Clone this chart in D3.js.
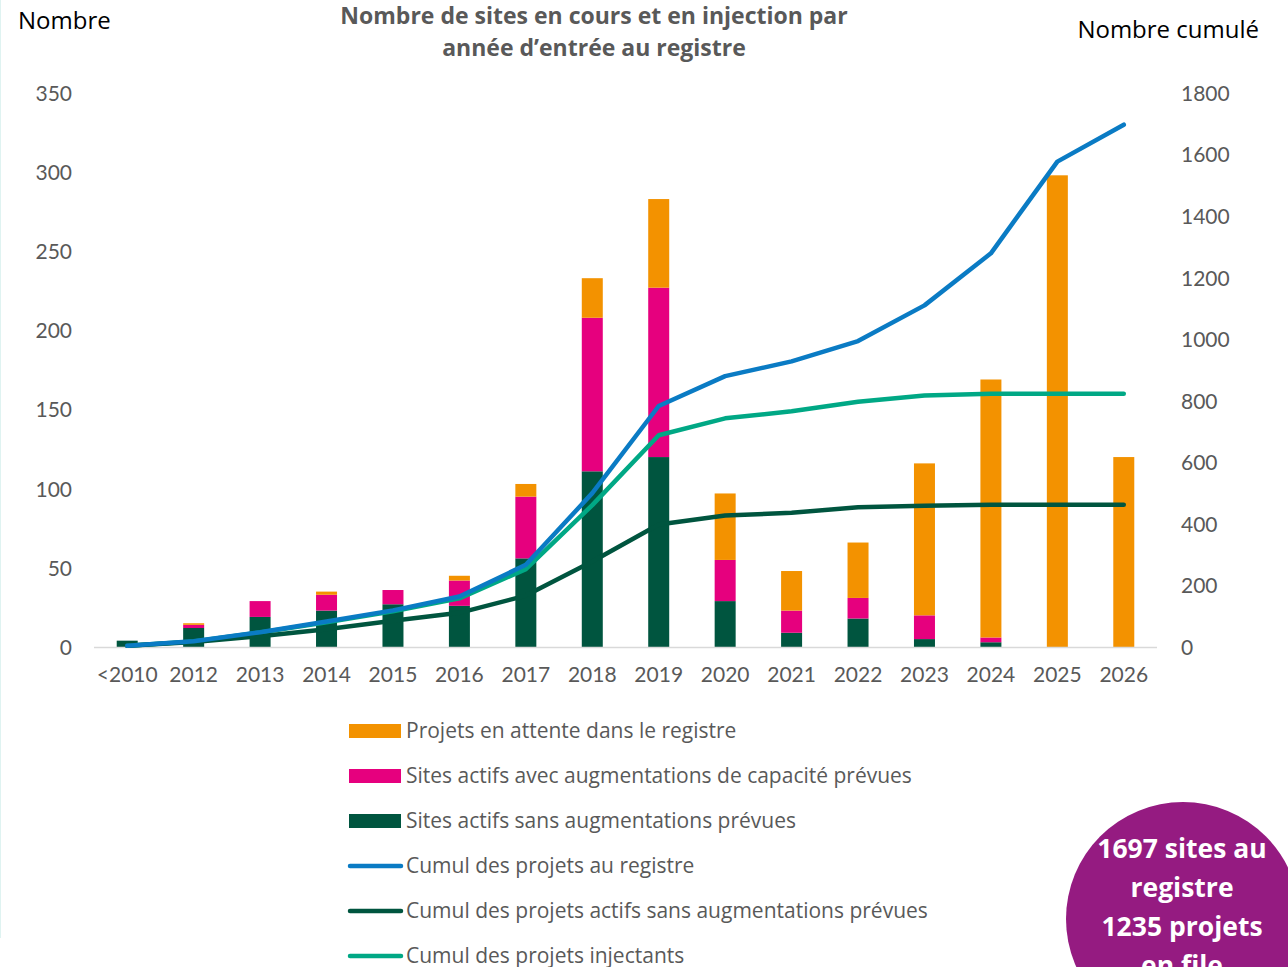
<!DOCTYPE html>
<html>
<head>
<meta charset="utf-8">
<script src="https://cdn.jsdelivr.net/npm/d3@7"></script>
<style>
  html, body { margin: 0; padding: 0; background: #fff; }
  svg { display: block; font-family: "Open Sans", Lato, sans-serif; }
</style>
</head>
<body>
<svg id="chart" width="1288" height="967"></svg>
<script>
// ---- Data ----
const categories = ["<2010","2012","2013","2014","2015","2016","2017","2018","2019","2020","2021","2022","2023","2024","2025","2026"];
const actifsSans   = [4, 12, 19, 23, 27, 26, 56, 111, 120, 29, 9, 18, 5, 3, 0, 0];
const actifsAvec   = [0, 2, 10, 10, 9, 16, 39, 97, 107, 26, 14, 13, 15, 3, 0, 0];
const enAttente    = [0, 1, 0, 2, 0, 3, 8, 25, 56, 42, 25, 35, 96, 163, 298, 120];
const cumulRegistre   = [4, 19, 48, 83, 119, 164, 267, 500, 783, 880, 928, 994, 1110, 1279, 1577, 1697];
const cumulActifsSans = [4, 16, 35, 58, 85, 111, 167, 278, 398, 427, 436, 454, 459, 462, 462, 462];
const cumulInjectants = [4, 18, 47, 80, 116, 158, 253, 461, 688, 743, 766, 797, 817, 823, 823, 823];
const leftTicks  = [0, 50, 100, 150, 200, 250, 300, 350];
const rightTicks = [0, 200, 400, 600, 800, 1000, 1200, 1400, 1600, 1800];

const barSeries = [
  { key: "sans",    name: "Sites actifs sans augmentations prévues", values: actifsSans, color: "#00553f" },
  { key: "avec",    name: "Sites actifs avec augmentations de capacité prévues", values: actifsAvec, color: "#e6007e" },
  { key: "attente", name: "Projets en attente dans le registre", values: enAttente, color: "#f39200" }
];
const lineSeries = [
  { name: "Cumul des projets au registre", values: cumulRegistre, color: "#0a7bc4" },
  { name: "Cumul des projets actifs sans augmentations prévues", values: cumulActifsSans, color: "#00553f" },
  { name: "Cumul des projets injectants", values: cumulInjectants, color: "#00a885" }
];

// ---- Layout ----
const svg = d3.select("#chart");
const plot = { left: 94, right: 1157, top: 93, bottom: 647 };

const x = d3.scaleBand().domain(categories).range([plot.left, plot.right]).paddingInner(0.68).paddingOuter(0.34);
const yL = d3.scaleLinear().domain([0, 350]).range([plot.bottom, plot.top]);
const yR = d3.scaleLinear().domain([0, 1800]).range([plot.bottom, plot.top]);

// faint left border line
svg.append("line").attr("x1", 0.5).attr("x2", 0.5).attr("y1", 0).attr("y2", 938)
  .attr("stroke", "#dff3f1").attr("stroke-width", 1);

// ---- Stacked bars ----
const rows = categories.map((c, i) => ({ cat: c, sans: actifsSans[i], avec: actifsAvec[i], attente: enAttente[i] }));
const stack = d3.stack().keys(barSeries.map(s => s.key))(rows);
const barW = 21;
stack.forEach((layer, li) => {
  svg.append("g").attr("fill", barSeries[li].color)
    .selectAll("rect").data(layer).join("rect")
    .attr("x", d => x(d.data.cat) + x.bandwidth() / 2 - barW / 2)
    .attr("width", barW)
    .attr("y", d => yL(d[1]))
    .attr("height", d => Math.max(0, yL(d[0]) - yL(d[1])));
});

// baseline
svg.append("line").attr("x1", plot.left).attr("x2", plot.right)
  .attr("y1", plot.bottom + 0.5).attr("y2", plot.bottom + 0.5)
  .attr("stroke", "#d9d9d9").attr("stroke-width", 1.5);

// ---- Lines ----
const cx = c => x(c) + x.bandwidth() / 2;
lineSeries.slice().reverse().forEach(s => {
  const line = d3.line().x((d, i) => cx(categories[i])).y(d => yR(d));
  svg.append("path").datum(s.values).attr("d", line)
    .attr("fill", "none").attr("stroke", s.color).attr("stroke-width", 4.5)
    .attr("stroke-linejoin", "round").attr("stroke-linecap", "round");
});

// ---- Axes ----
const fmt = d3.format("d");
const axisLeft = d3.axisLeft(yL).tickValues(leftTicks).tickFormat(fmt).tickSize(0).tickPadding(0);
const gL = svg.append("g").attr("transform", `translate(72,0)`).call(axisLeft);
const axisRight = d3.axisRight(yR).tickValues(rightTicks).tickFormat(fmt).tickSize(0).tickPadding(0);
const gR = svg.append("g").attr("transform", `translate(1181,0)`).call(axisRight);
const axisBottom = d3.axisBottom(x).tickSize(0).tickPadding(0);
const gB = svg.append("g").attr("transform", `translate(0,${plot.bottom + 20})`).call(axisBottom);
[gL, gR, gB].forEach(g => {
  g.select(".domain").remove();
  g.selectAll("text").attr("fill", "#595959").style("font-size", "21px").style("font-family", "Lato, sans-serif");
});
gL.selectAll("text").attr("dy", "0.35em");
gR.selectAll("text").attr("dy", "0.35em");
gB.selectAll("text").attr("dy", "0.71em");

// ---- Titles ----
svg.append("text").attr("x", 18).attr("y", 29).text("Nombre")
  .attr("fill", "#000").style("font-size", "24px");
svg.append("text").attr("x", 1259).attr("y", 38).attr("text-anchor", "end").text("Nombre cumulé")
  .attr("fill", "#000").style("font-size", "24px");
const title = svg.append("text").attr("text-anchor", "middle").attr("fill", "#595959")
  .style("font-size", "23px").style("font-weight", "bold");
title.append("tspan").attr("x", 594).attr("y", 24).text("Nombre de sites en cours et en injection par");
title.append("tspan").attr("x", 594).attr("y", 56).text("année d’entrée au registre");

// ---- Legend ----
const legendItems = [
  { type: "rect", name: barSeries[2].name, color: barSeries[2].color },
  { type: "rect", name: barSeries[1].name, color: barSeries[1].color },
  { type: "rect", name: barSeries[0].name, color: barSeries[0].color },
  { type: "line", name: lineSeries[0].name, color: lineSeries[0].color },
  { type: "line", name: lineSeries[1].name, color: lineSeries[1].color },
  { type: "line", name: lineSeries[2].name, color: lineSeries[2].color }
];
const lg = svg.append("g");
legendItems.forEach((it, i) => {
  const yc = 731 + i * 45;
  if (it.type === "rect") {
    lg.append("rect").attr("x", 349).attr("y", yc - 7).attr("width", 52).attr("height", 14).attr("fill", it.color);
  } else {
    lg.append("line").attr("x1", 350).attr("x2", 401).attr("y1", yc).attr("y2", yc)
      .attr("stroke", it.color).attr("stroke-width", 4.5).attr("stroke-linecap", "round");
  }
  lg.append("text").attr("x", 406).attr("y", yc).attr("dy", "0.35em").text(it.name)
    .attr("fill", "#595959").style("font-size", "21px");
});

// ---- Callout circle ----
svg.append("circle").attr("cx", 1183).attr("cy", 919).attr("r", 117).attr("fill", "#951b81");
const callout = svg.append("text").attr("text-anchor", "middle").attr("fill", "#fff")
  .style("font-size", "26.5px").style("font-weight", "bold");
["1697 sites au", "registre", "1235 projets", "en file"].forEach((t, i) => {
  callout.append("tspan").attr("x", 1182).attr("y", 858 + i * 39).text(t);
});
</script>
</body>
</html>
